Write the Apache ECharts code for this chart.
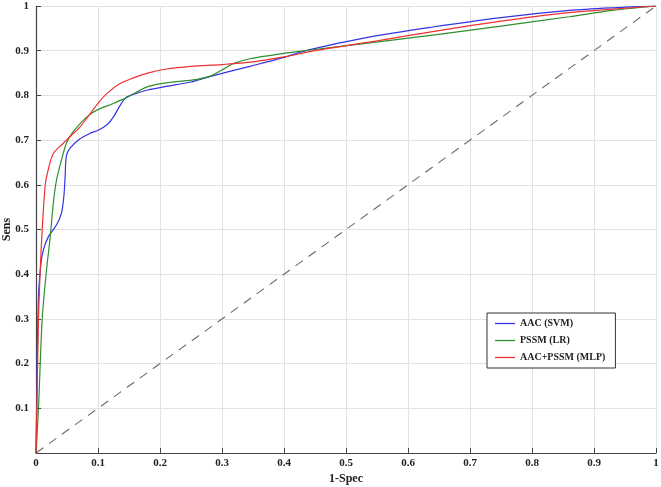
<!DOCTYPE html>
<html>
<head>
<meta charset="utf-8">
<script src="https://cdn.jsdelivr.net/npm/echarts@6/dist/echarts.min.js"></script>
<style>
  html, body { margin: 0; padding: 0; background: #fff; }
  #rocChart { width: 661px; height: 487px; }
</style>
</head>
<body>
<div id="rocChart"></div>
<script>
// ROC curves, values
var svmX = [0, 0.002, 0.004, 0.008, 0.012, 0.02, 0.033, 0.041, 0.045, 0.047, 0.049, 0.055, 0.07, 0.087, 0.1, 0.115, 0.125, 0.135, 0.145, 0.165, 0.18, 0.21, 0.25, 0.28, 0.345, 0.4, 0.44, 0.535, 0.64, 0.75, 0.86, 0.93, 1];
var svmY = [0, 0.2, 0.35, 0.424, 0.455, 0.484, 0.51, 0.536, 0.575, 0.62, 0.665, 0.682, 0.702, 0.715, 0.722, 0.735, 0.752, 0.776, 0.795, 0.806, 0.812, 0.82, 0.83, 0.842, 0.865, 0.885, 0.902, 0.93, 0.953, 0.974, 0.99, 0.996, 1];

var lrX = [0, 0.004, 0.01, 0.017, 0.023, 0.028, 0.033, 0.041, 0.049, 0.058, 0.07, 0.082, 0.098, 0.125, 0.146, 0.179, 0.205, 0.235, 0.26, 0.281, 0.3, 0.318, 0.345, 0.4, 0.44, 0.535, 0.64, 0.75, 0.86, 0.93, 1];
var lrY = [0, 0.1, 0.3, 0.41, 0.484, 0.56, 0.61, 0.655, 0.693, 0.715, 0.735, 0.752, 0.767, 0.782, 0.795, 0.819, 0.827, 0.832, 0.836, 0.843, 0.857, 0.871, 0.882, 0.894, 0.901, 0.917, 0.935, 0.955, 0.976, 0.99, 1];

var mlpX = [0, 0.002, 0.004, 0.0065, 0.01, 0.015, 0.02, 0.028, 0.044, 0.055, 0.07, 0.082, 0.098, 0.115, 0.135, 0.155, 0.18, 0.21, 0.25, 0.3, 0.35, 0.4, 0.45, 0.55, 0.65, 0.75, 0.85, 0.92, 1];
var mlpY = [0, 0.15, 0.3, 0.4, 0.5, 0.6, 0.635, 0.67, 0.693, 0.708, 0.728, 0.749, 0.779, 0.805, 0.826, 0.838, 0.85, 0.859, 0.865, 0.869, 0.875, 0.886, 0.9, 0.922, 0.945, 0.966, 0.984, 0.992, 1];

var chanceX = [0, 1];
var chanceY = [0, 1];

var seriesNames = ['AAC (SVM)', 'PSSM (LR)', 'AAC+PSSM (MLP)'];
var seriesColors = ['#3434e6', '#2f8f2f', '#ee3030'];

function pairs(xs, ys) {
  return xs.map(function (x, i) { return [x, ys[i]]; });
}

var serifBold = { fontFamily: 'Liberation Serif', fontWeight: 'bold', color: '#222' };

function tickLabel(v) {
  if (v === 0) return '0';
  return String(Math.round(v * 10) / 10);
}

var rocChart = echarts.init(document.getElementById('rocChart'));

var rocOption = {
  animation: false,
  backgroundColor: '#fff',
  grid: { left: 36, right: 5, top: 6, bottom: 34, containLabel: false, outerBoundsMode: 'none' },
  legend: {
    data: seriesNames,
    orient: 'vertical',
    left: 487,
    top: 313,
    padding: [5, 10, 5, 8],
    icon: 'rect',
    itemWidth: 20,
    itemHeight: 1.3,
    itemGap: 6,
    borderColor: '#333',
    borderWidth: 1,
    borderRadius: 0,
    backgroundColor: '#fff',
    textStyle: { fontFamily: 'Liberation Serif', fontWeight: 'bold', fontSize: 10, color: '#222', lineHeight: 11 }
  },
  xAxis: {
    type: 'value',
    min: 0, max: 1, interval: 0.1,
    name: '1-Spec',
    nameLocation: 'middle',
    nameGap: 20,
    nameMoveOverlap: false,
    nameTextStyle: Object.assign({ fontSize: 12 }, serifBold),
    axisLine: { lineStyle: { color: '#444', width: 1.2 } },
    axisTick: { inside: true, length: 5, lineStyle: { color: '#444' } },
    axisLabel: Object.assign({ fontSize: 11, margin: 5, formatter: tickLabel }, serifBold),
    splitLine: { lineStyle: { color: '#e2e2e2' } }
  },
  yAxis: {
    type: 'value',
    min: 0, max: 1, interval: 0.1,
    name: 'Sens',
    nameLocation: 'middle',
    nameGap: 23,
    nameMoveOverlap: false,
    nameTextStyle: Object.assign({ fontSize: 12 }, serifBold),
    axisLine: { show: true, lineStyle: { color: '#444', width: 1.2 } },
    axisTick: { show: true, inside: true, length: 5, lineStyle: { color: '#444' } },
    axisLabel: Object.assign({ fontSize: 11, margin: 7, formatter: function (v) { return v === 0 ? '' : tickLabel(v); } }, serifBold),
    splitLine: { lineStyle: { color: '#e2e2e2' } }
  },
  series: [
    {
      type: 'line',
      data: pairs(chanceX, chanceY),
      symbol: 'none',
      silent: true,
      lineStyle: { color: '#6a6a6a', width: 1.1, type: [9, 7] }
    },
    {
      name: seriesNames[0], type: 'line', data: pairs(svmX, svmY),
      symbol: 'none', smooth: 0.3, color: seriesColors[0],
      lineStyle: { width: 1.2 }
    },
    {
      name: seriesNames[1], type: 'line', data: pairs(lrX, lrY),
      symbol: 'none', smooth: 0.3, color: seriesColors[1],
      lineStyle: { width: 1.2 }
    },
    {
      name: seriesNames[2], type: 'line', data: pairs(mlpX, mlpY),
      symbol: 'none', smooth: 0.3, color: seriesColors[2],
      lineStyle: { width: 1.2 }
    }
  ]
};

rocChart.setOption(rocOption, true);
</script>
</body>
</html>
